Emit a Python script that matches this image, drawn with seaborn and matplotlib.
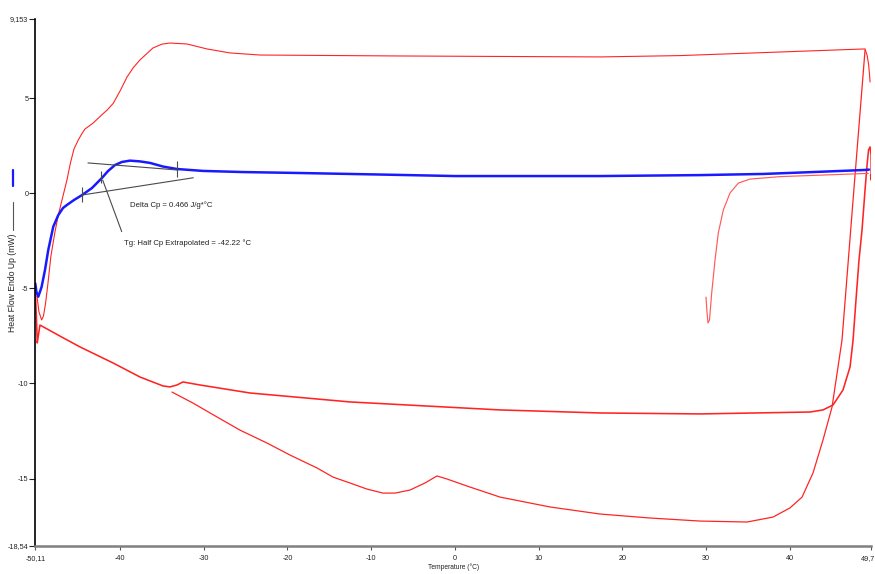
import matplotlib
matplotlib.use("Agg")
import matplotlib.pyplot as plt
import matplotlib.transforms as mtransforms
from matplotlib.lines import Line2D
import pandas as pd
import seaborn as sns

# ---- DSC traces (temperature in °C, heat flow in mW) ----
# Heating scan through the glass transition
blue_temp = [-50.11, -49.97, -49.75, -49.35, -48.95, -48.56, -47.96, -47.36, -46.80,
             -46.33, -45.49, -44.53, -43.34, -42.15, -41.43, -40.59, -39.76, -38.80,
             -37.61, -36.41, -34.86, -33.19, -30.09, -25.31, -18.50, -8.95, 0.00,
             17.32, 29.26, 36.78, 42.75, 48.96, 49.44]
blue_flow = [-4.74, -5.19, -5.44, -4.92, -4.04, -2.99, -1.76, -1.15, -0.78,
             -0.62, -0.36, -0.10, 0.27, 0.80, 1.16, 1.48, 1.64, 1.71,
             1.67, 1.59, 1.40, 1.27, 1.17, 1.11, 1.06, 0.98, 0.90,
             0.90, 0.95, 1.01, 1.11, 1.22, 1.24]

# Upper scan (endothermic side)
upper_temp = [-49.91, -49.67, -49.35, -49.13, -48.89, -48.59, -48.24, -47.76, -47.36,
              -46.80, -46.33, -45.91, -45.49, -44.98, -44.58, -44.18, -43.19, -42.18,
              -41.50, -40.80, -39.95, -39.16, -38.40, -37.61, -36.06, -35.00, -34.03,
              -32.00, -29.61, -26.86, -23.28, -6.56, 17.32, 26.87, 48.96, 49.20,
              49.38, 49.50, 49.56]
upper_flow = [-5.40, -6.24, -6.66, -6.45, -5.82, -4.72, -3.30, -2.04, -1.15,
              -0.15, 0.69, 1.59, 2.32, 2.79, 3.10, 3.37, 3.69, 4.11,
              4.38, 4.72, 5.40, 6.10, 6.60, 7.00, 7.63, 7.83, 7.89,
              7.84, 7.58, 7.37, 7.26, 7.21, 7.16, 7.23, 7.58, 7.26,
              6.79, 6.21, 5.84]

# Lowest scan, returning up the steep edge at the hot end
lower_temp = [-33.79, -31.28, -28.41, -25.67, -22.44, -19.70, -16.47, -14.56, -12.53,
              -10.50, -8.59, -7.16, -5.37, -3.58, -2.15, -0.95, 1.44, 5.38,
              11.35, 17.32, 23.29, 29.26, 34.87, 37.97, 40.00, 41.44, 42.75,
              43.94, 45.02, 46.21, 47.53, 48.96]
lower_flow = [-10.45, -11.03, -11.76, -12.45, -13.13, -13.76, -14.44, -14.92, -15.23,
              -15.55, -15.76, -15.76, -15.60, -15.23, -14.86, -15.02, -15.39, -15.97,
              -16.49, -16.86, -17.07, -17.23, -17.28, -17.02, -16.54, -15.97, -14.70,
              -12.97, -11.24, -7.72, -0.36, 7.52]

# Middle scan
middle_temp = [-50.11, -49.97, -49.87, -49.73, -49.55, -47.16, -44.77, -40.83, -37.61,
               -34.86, -34.03, -33.19, -32.47, -30.44, -24.47, -12.53, 5.38, 17.32,
               29.26, 42.39, 43.94, 45.14, 46.33, 47.17, 47.53, 47.88, 48.24,
               48.60, 48.96, 49.20, 49.38, 49.56, 49.68, 49.69, 49.69, 49.62]
middle_flow = [-5.09, -6.56, -7.87, -7.45, -6.93, -7.51, -8.08, -8.92, -9.66,
               -10.13, -10.18, -10.08, -9.92, -10.08, -10.50, -10.97, -11.39, -11.55,
               -11.60, -11.50, -11.39, -11.13, -10.34, -9.13, -7.72, -5.61, -3.51,
               -1.93, 0.17, 1.48, 2.27, 2.43, 2.00, 1.32, 0.69, 0.95]

# Short scan starting at 30 °C
short_temp = [29.97, 30.09, 30.21, 30.39, 30.65, 31.05, 31.44, 32.04, 32.84,
              33.83, 35.23, 38.81, 49.35]
short_flow = [-5.46, -6.24, -6.82, -6.66, -5.25, -3.51, -2.09, -0.88, 0.01,
              0.53, 0.74, 0.87, 1.04]

# Glass-transition analysis construction
onset_line_temp = [-43.82, -33.19]
onset_line_flow = [1.59, 1.22]
base_line_temp = [-44.57, -31.24]
base_line_flow = [-0.10, 0.81]
tick_temp = [-33.19, -44.57, -42.22]
tick_low = [0.83, -0.45, 0.52]
tick_high = [1.71, 0.34, 1.18]
pointer_temp = [-42.06, -39.79]
pointer_flow = [0.69, -2.02]

delta_cp = 0.466
tg_value = -42.22

x_ticks = [-50.11, -40, -30, -20, -10, 0, 10, 20, 30, 40, 49.7]
x_labels = ["-50,11", "-40", "-30", "-20", "-10", "0", "10", "20", "30", "40", "49,7"]
y_ticks = [-18.54, -15, -10, -5, 0, 5, 9.153]
y_labels = ["-18,54", "-15", "-10", "-5", "0", "5", "9,153"]

sns.set_style("white")
plt.rcParams["font.family"] = ["Liberation Sans", "DejaVu Sans"]

fig, ax = plt.subplots(figsize=(8.75, 5.74), dpi=100)
fig.subplots_adjust(left=0.0403, right=0.9957, bottom=0.0488, top=0.9669)

RED = "#ff2424"
traces = [
    (upper_temp, upper_flow, RED, 0.8),
    (lower_temp, lower_flow, RED, 0.9),
    (middle_temp, middle_flow, RED, 1.15),
    (short_temp, short_flow, "#ff5a5a", 0.85),
    (blue_temp, blue_flow, "#1a1aff", 1.8),
]
for t, f, c, lw in traces:
    df = pd.DataFrame({"temp": t, "flow": f})
    sns.lineplot(data=df, x="temp", y="flow", sort=False, estimator=None,
                 color=c, linewidth=lw, ax=ax)

# Tangent construction for Tg
ANN = "#4a4a4a"
for t, f in [(onset_line_temp, onset_line_flow), (base_line_temp, base_line_flow),
             (pointer_temp, pointer_flow)]:
    sns.lineplot(x=t, y=f, sort=False, estimator=None, color=ANN, linewidth=0.8, ax=ax)
ax.vlines(tick_temp, tick_low, tick_high, color=ANN, linewidth=0.8)

ax.text(-38.80, -0.62, f"Delta Cp = {delta_cp:.3f} J/g*°C", fontsize=5.6,
        ha="left", va="center", color="#222222")
ax.text(-39.52, -2.62, f"Tg: Half Cp Extrapolated = {tg_value:.2f} °C", fontsize=5.6,
        ha="left", va="center", color="#222222")

ax.set_xlim(-50.11, 49.7)
ax.set_ylim(-18.54, 9.153)
ax.set_xticks(x_ticks)
ax.set_xticklabels(x_labels)
ax.set_yticks(y_ticks)
ax.set_yticklabels(y_labels)
ax.tick_params(axis="both", labelsize=5.2, colors="#222222")
ax.tick_params(axis="y", direction="out", length=4, width=0.8, pad=1, left=True)
ax.tick_params(axis="x", direction="out", length=3, width=0.8, pad=3.5, bottom=True,
               color="#555555")

# keep the last temperature label inside the canvas
last = ax.get_xticklabels()[-1]
last.set_transform(last.get_transform() +
                   mtransforms.ScaledTranslation(-3 / 100, 0, fig.dpi_scale_trans))

sns.despine(ax=ax)
ax.spines["left"].set_color("black")
ax.spines["left"].set_linewidth(1.2)
ax.spines["bottom"].set_color("#808080")
ax.spines["bottom"].set_linewidth(1.8)

ax.set_xlabel("Temperature (°C)", fontsize=4.8, color="#222222")
ax.set_ylabel("Heat Flow Endo Up (mW)", fontsize=6.2, color="#222222")
ax.xaxis.set_label_coords(0.5, -0.033)
ax.yaxis.set_label_coords(-0.022, 0.5)

# Signal key drawn beside the axis title
fig.add_artist(Line2D([13 / 875, 13 / 875], [1 - 170 / 574, 1 - 186 / 574],
                      transform=fig.transFigure, color="#1a1aff", linewidth=1.6))
fig.add_artist(Line2D([13 / 875, 13 / 875], [1 - 202 / 574, 1 - 230 / 574],
                      transform=fig.transFigure, color="#555555", linewidth=0.8))

fig.savefig("out.png", dpi=100)
